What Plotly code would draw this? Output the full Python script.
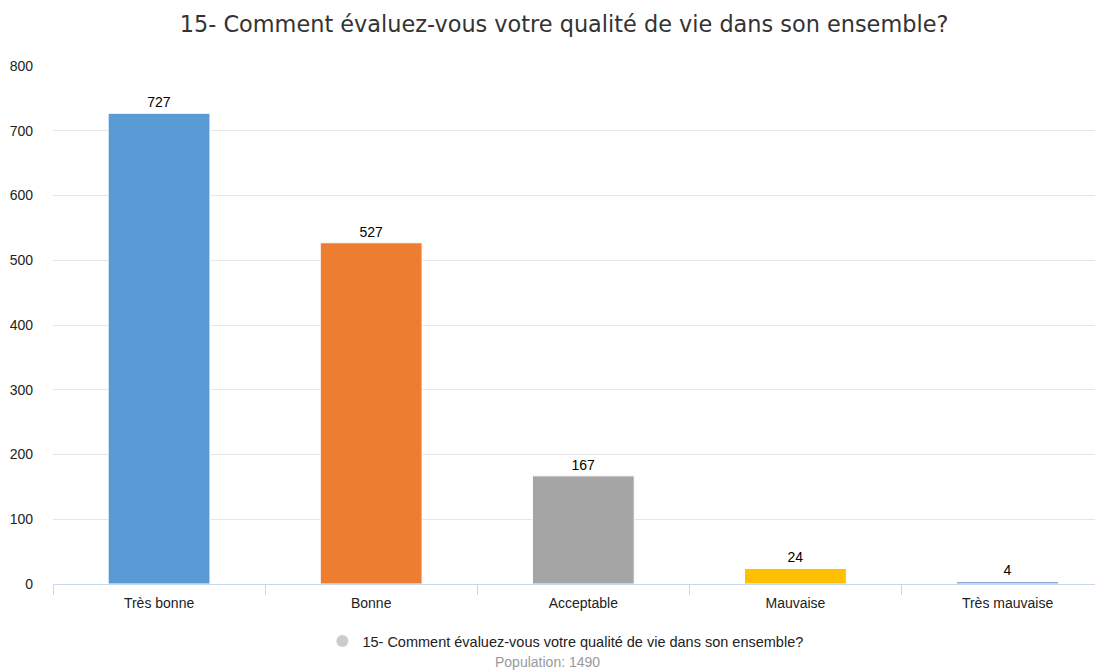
import plotly.graph_objects as go

categories = ["Très bonne", "Bonne", "Acceptable", "Mauvaise", "Très mauvaise"]
values = [727, 527, 167, 24, 4]
colors = ["#5B9BD5", "#ED7D31", "#A5A5A5", "#FFC000", "#8EA9DB"]
title_text = "15- Comment évaluez-vous votre qualité de vie dans son ensemble?"
population = 1490

fig = go.Figure()
fig.add_trace(go.Bar(
    x=categories, y=values,
    marker=dict(color=colors, line=dict(color="white", width=1)),
    width=0.48,
    text=[str(v) for v in values], textposition="outside",
    textfont=dict(family="Arial, Liberation Sans", size=14, color="#000000"),
    cliponaxis=False, showlegend=False, hoverinfo="x+y",
))
fig.add_trace(go.Scatter(
    x=[None], y=[None], mode="markers", name=title_text,
    marker=dict(color="#cccccc", size=14, symbol="circle"),
    showlegend=True,
))

# page body adds an 8px margin, so the figure is sized to the remaining area
fig.update_layout(
    width=1095, height=663,
    margin=dict(l=45, r=0, t=58, b=87, autoexpand=False),
    plot_bgcolor="white", paper_bgcolor="white",
    title=dict(text=title_text, x=0.5078, xanchor="center", y=0.976, yanchor="middle",
               font=dict(family="DejaVu Sans", size=22.4, color="#333333")),
    font=dict(family="Arial, Liberation Sans", color="#333333"),
    showlegend=True,
    legend=dict(orientation="h", x=0.488, xanchor="center", y=-0.11, yanchor="middle",
                font=dict(size=14.5, color="#222222"), itemsizing="constant"),
    annotations=[dict(text=f"Population: {population}", x=0.471, xref="paper", xanchor="center",
                      y=-0.1506, yref="paper", yanchor="middle", showarrow=False,
                      font=dict(size=14, color="#999999"))],
    bargap=0.52,
)
fig.update_xaxes(
    type="category", range=[-0.5, 4.45], showgrid=False,
    showline=True, linecolor="#ccd6eb", linewidth=1,
    ticks="outside", tickson="boundaries", ticklen=10, tickcolor="#ccd6eb",
    ticklabelstandoff=6,
    tickfont=dict(size=14, color="#222222"), fixedrange=True,
)
fig.update_yaxes(
    range=[0, 800], dtick=100, showgrid=True, gridcolor="#e6e6e6", gridwidth=1,
    zeroline=False, showline=False, ticklabelstandoff=19,
    tickfont=dict(size=14, color="#222222"), fixedrange=True,
)

fig.write_html("out.html")
